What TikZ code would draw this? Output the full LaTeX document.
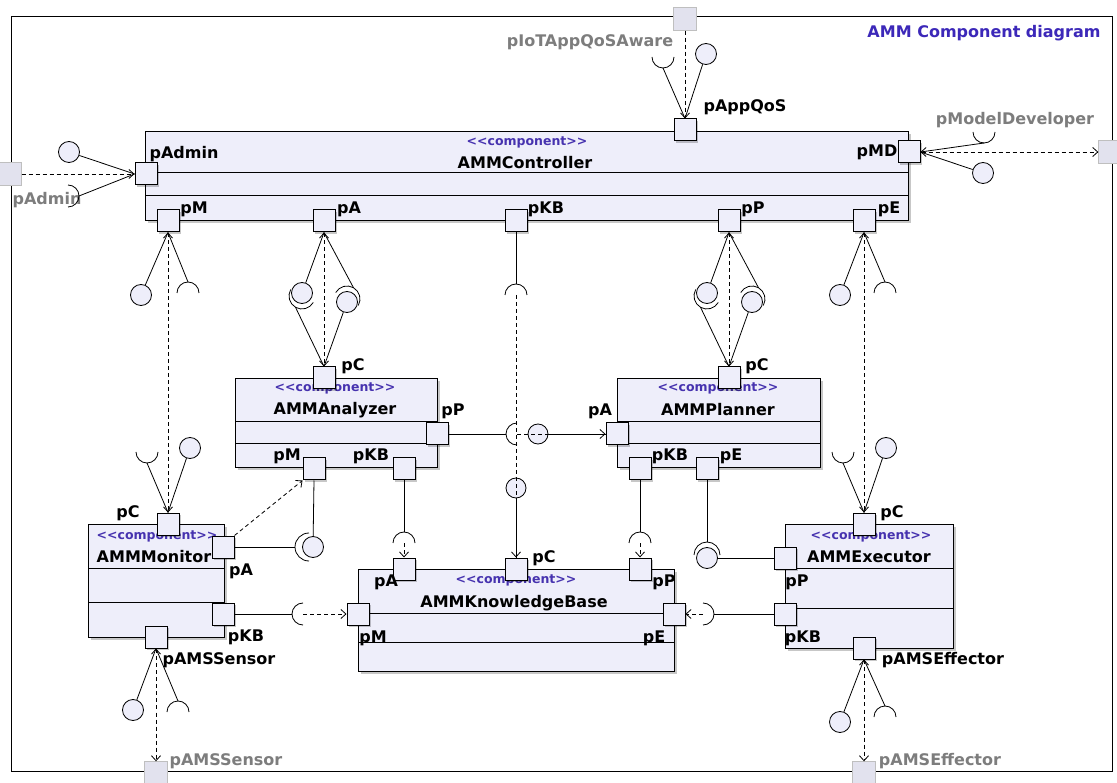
\documentclass[tikz,border=0pt]{standalone}
\usepackage{fontspec}
\setmainfont{DejaVu Sans}
\usetikzlibrary{arrows.meta, calc, shadows}
\definecolor{compfill}{RGB}{238,238,250}
\definecolor{extfill}{RGB}{226,226,238}
\definecolor{stcol}{RGB}{70,50,175}
\definecolor{ttlblue}{RGB}{60,40,185}
\definecolor{xgray}{RGB}{125,125,125}

% socket (required interface): radius, name, centre, opening angle
\newcommand{\sockat}[4][11pt]{%
  \coordinate (#2) at (#3);
  \coordinate (#2-b) at ($(#2)+(#4+180:#1)$);
  \draw[ifc] ($(#2)+(#4+90:#1)$) arc[start angle=#4+90, end angle=#4+270, radius=#1];}
% compartment line inside a component
\newcommand{\compart}[2]{\draw[line width=1pt] ($(#1.north west)+(0,#2)$) -- ($(#1.north east)+(0,#2)$);}
\newcommand{\stt}{<\kern0pt<component>\kern0pt>}

\begin{document}
\begin{tikzpicture}[x=1pt, y=-1pt,
  every node/.style={font=\fontsize{16}{18}\selectfont\bfseries},
  >={Straight Barb[length=5pt,width=9pt]},
  shade/.style={drop shadow={shadow xshift=2pt, shadow yshift=-2pt, fill=black, opacity=0.22}},
  comp/.style={draw, fill=compfill, line width=1.1pt, anchor=north west, inner sep=0pt, shade},
  port/.style={draw, fill=compfill, line width=1pt, minimum size=22pt, inner sep=0pt, shade},
  extport/.style={draw=black!25, fill=extfill, minimum size=23pt, inner sep=0pt},
  plab/.style={inner sep=0pt},
  xlab/.style={text=xgray, inner sep=0pt},
  stereo/.style={text=stcol, inner sep=0pt, font=\fontsize{12.5}{14}\selectfont\bfseries},
  lolli/.style={circle, draw, fill=compfill, minimum size=21pt, inner sep=0pt, line width=0.8pt},
  ifc/.style={line width=0.8pt},
  wire/.style={line width=0.8pt},
  deleg/.style={line width=0.8pt, dash pattern=on 4pt off 3pt}]

  \fill[white] (0,0) rectangle (1117,783);
  \useasboundingbox (0,0) rectangle (1117,783);
  \draw[line width=1pt] (11,17) rectangle (1112,771);
  \node[text=ttlblue] (ttl) at (984,33) {AMM Component diagram};

  % components
  \node[comp, minimum width=763pt, minimum height=89pt] (ctrl) at (145,131) {};
  \compart{ctrl}{42} \compart{ctrl}{65}
  \node[stereo] (ctrl-st) at (527,142) {\stt};
  \node (ctrl-nm) at (525,163) {AMMController};

  \node[comp, minimum width=202pt, minimum height=89pt] (ana) at (235,378) {};
  \compart{ana}{44} \compart{ana}{66}
  \node[stereo] (ana-st) at (335,388) {\stt};
  \node (ana-nm) at (335,410) {AMMAnalyzer};

  \node[comp, minimum width=203pt, minimum height=89pt] (pla) at (617,378) {};
  \compart{pla}{44} \compart{pla}{66}
  \node[stereo] (pla-st) at (718,388) {\stt};
  \node (pla-nm) at (718,410) {AMMPlanner};

  \node[comp, minimum width=136pt, minimum height=113pt] (mon) at (88,524) {};
  \compart{mon}{44} \compart{mon}{78}
  \node[stereo] (mon-st) at (157,536) {\stt};
  \node (mon-nm) at (154,557) {AMMMonitor};

  \node[comp, minimum width=168pt, minimum height=124pt] (exe) at (785,524) {};
  \compart{exe}{44} \compart{exe}{84}
  \node[stereo] (exe-st) at (871,536) {\stt};
  \node (exe-nm) at (869,557) {AMMExecutor};

  \node[comp, minimum width=316pt, minimum height=102pt] (kb) at (358,569) {};
  \compart{kb}{44} \compart{kb}{73}
  \node[stereo] (kb-st) at (516,580) {\stt};
  \node (kb-nm) at (514,603) {AMMKnowledgeBase};

  % ports
  \node[port] (cAdmin) at (146,174) {};
  \node[port] (cQoS) at (685,130) {};
  \node[port] (cMD) at (909,152) {};
  \node[port] (cM) at (168,221) {};
  \node[port] (cA) at (324,221) {};
  \node[port] (cKB) at (516,221) {};
  \node[port] (cP) at (729,221) {};
  \node[port] (cE) at (864,221) {};
  \node[port] (aC) at (324,378) {};
  \node[port] (aP) at (437,434) {};
  \node[port] (aM) at (314,469) {};
  \node[port] (aKB) at (404,469) {};
  \node[port] (lC) at (729,378) {};
  \node[port] (lA) at (617,434) {};
  \node[port] (lKB) at (640,469) {};
  \node[port] (lE) at (707,469) {};
  \node[port] (mC) at (168,524) {};
  \node[port] (mA) at (223,547) {};
  \node[port] (mKB) at (223,614) {};
  \node[port] (mS) at (156,637) {};
  \node[port] (eC) at (864,524) {};
  \node[port] (eP) at (785,558) {};
  \node[port] (eKB) at (785,614) {};
  \node[port] (eS) at (864,648) {};
  \node[port] (kA) at (404,569) {};
  \node[port] (kC) at (516,569) {};
  \node[port] (kP) at (640,569) {};
  \node[port] (kM) at (358,614) {};
  \node[port] (kE) at (674,614) {};

  % port labels
  \node[plab] (cAdmin-l) at (184,154) {pAdmin};
  \node[plab] (cQoS-l) at (745,107) {pAppQoS};
  \node[plab] (cMD-l) at (877,152) {pMD};
  \node[plab] (cM-l) at (194,209) {pM};
  \node[plab] (cA-l) at (349,209) {pA};
  \node[plab] (cKB-l) at (546,209) {pKB};
  \node[plab] (cP-l) at (753,209) {pP};
  \node[plab] (cE-l) at (889,209) {pE};
  \node[plab] (aC-l) at (353,366) {pC};
  \node[plab] (aP-l) at (453,411) {pP};
  \node[plab] (aM-l) at (287,456) {pM};
  \node[plab] (aKB-l) at (371,456) {pKB};
  \node[plab] (lC-l) at (757,366) {pC};
  \node[plab] (lA-l) at (600,411) {pA};
  \node[plab] (lKB-l) at (670,456) {pKB};
  \node[plab] (lE-l) at (731,456) {pE};
  \node[plab] (mC-l) at (128,513) {pC};
  \node[plab] (mA-l) at (241,571) {pA};
  \node[plab] (mKB-l) at (246,637) {pKB};
  \node[plab] (mS-l) at (219,660) {pAMSSensor};
  \node[plab] (eC-l) at (892,513) {pC};
  \node[plab] (eP-l) at (797,582) {pP};
  \node[plab] (eKB-l) at (803,638) {pKB};
  \node[plab] (eS-l) at (943,660) {pAMSEffector};
  \node[plab] (kA-l) at (386,582) {pA};
  \node[plab] (kC-l) at (544,558) {pC};
  \node[plab] (kP-l) at (664,582) {pP};
  \node[plab] (kM-l) at (373,638) {pM};
  \node[plab] (kE-l) at (654,638) {pE};

  % outer ports
  \node[extport] (xAdmin) at (10,174) {};
  \node[xlab] (xAdmin-l) at (47,200) {pAdmin};
  \node[extport] (xQoS) at (685,19) {};
  \node[xlab] (xQoS-l) at (590,42) {pIoTAppQoSAware};
  \node[extport] (xMD) at (1110,152) {};
  \node[xlab] (xMD-l) at (1015,120) {pModelDeveloper};
  \node[extport] (xSensor) at (156,773) {};
  \node[xlab] (xSensor-l) at (226,761) {pAMSSensor};
  \node[extport] (xEff) at (864,773) {};
  \node[xlab] (xEff-l) at (940,761) {pAMSEffector};

  % delegation: pAdmin
  \node[lolli] (iAdmin) at (69,152) {};
  \sockat{sAdmin}{68,196}{180}
  \draw[deleg,->] (xAdmin) -- (cAdmin);
  \draw[wire] (iAdmin) -- (cAdmin.west);
  \draw[wire] (sAdmin-b) -- (cAdmin.west);

  % delegation: pAppQoS
  \sockat{sQoS}{663,57}{90}
  \node[lolli] (iQoS) at (706,54) {};
  \draw[deleg,->] (xQoS) -- (cQoS);
  \draw[wire] (sQoS-b) -- (cQoS.north);
  \draw[wire] (iQoS) -- (cQoS.north);

  % delegation: pMD
  \sockat{sMD}{984,132}{90}
  \node[lolli] (iMD) at (983,173) {};
  \draw[deleg,<->] (cMD) -- (xMD);
  \draw[wire] (cMD.east) -- (sMD-b);
  \draw[wire] (cMD.east) -- (iMD);

  % controller pM - monitor pC
  \node[lolli] (iM1) at (141,295) {};
  \sockat{sM1}{188,293}{270}
  \sockat{sM2}{147,452}{90}
  \node[lolli] (iM2) at (190,448) {};
  \draw[deleg,<->] (cM) -- (mC);
  \draw[wire] (cM.south) -- (iM1);
  \draw[wire] (cM.south) -- (sM1-b);
  \draw[wire] (sM2-b) -- (mC.north);
  \draw[wire] (iM2) -- (mC.north);

  % controller pA - analyzer pC
  \node[lolli] (iA1) at (302,293) {};
  \sockat[13pt]{sA1}{302,296}{60}
  \node[lolli] (iA2) at (347,302) {};
  \sockat[13pt]{sA2}{347,299}{240}
  \draw[deleg,<->] (cA) -- (aC);
  \draw[wire] (cA.south) -- (iA1);
  \draw[wire] (cA.south) -- (sA2-b);
  \draw[wire] (sA1-b) -- (aC.north);
  \draw[wire] (iA2) -- (aC.north);

  % controller pP - planner pC
  \node[lolli] (iP1) at (707,293) {};
  \sockat[13pt]{sP1}{707,296}{60}
  \node[lolli] (iP2) at (752,302) {};
  \sockat[13pt]{sP2}{752,299}{240}
  \draw[deleg,<->] (cP) -- (lC);
  \draw[wire] (cP.south) -- (iP1);
  \draw[wire] (cP.south) -- (sP2-b);
  \draw[wire] (sP1-b) -- (lC.north);
  \draw[wire] (iP2) -- (lC.north);

  % controller pE - executor pC
  \node[lolli] (iE1) at (840,295) {};
  \sockat{sE1}{885,293}{270}
  \sockat{sE2}{843,452}{90}
  \node[lolli] (iE2) at (886,448) {};
  \draw[deleg,<->] (cE) -- (eC);
  \draw[wire] (cE.south) -- (iE1);
  \draw[wire] (cE.south) -- (sE1-b);
  \draw[wire] (sE2-b) -- (eC.north);
  \draw[wire] (iE2) -- (eC.north);

  % controller pKB - knowledge base pC
  \sockat{sKB}{516,295}{270}
  \node[lolli, minimum size=20pt] (iKB) at (516,488) {};
  \draw[wire] (cKB.south) -- (sKB-b);
  \draw[deleg,->] (sKB) -- (kC);
  \draw[wire] (iKB) -- (kC.north);

  % analyzer pP - planner pA
  \sockat{sAP}{517,434}{0}
  \node[lolli, minimum size=20pt] (iAP) at (538,434) {};
  \draw[wire] (aP.east) -- (sAP-b);
  \draw[deleg,->] (sAP) -- (lA);
  \draw[wire] (iAP) -- (lA.west);

  % monitor pA - analyzer pM
  \node[lolli] (iAM) at (313,547) {};
  \sockat[14pt]{sAM}{309,547}{0}
  \draw[deleg,->] (mA.north east) -- (aM.south west);
  \draw[wire] (aM.south) -- (iAM);
  \draw[wire] (mA.east) -- (sAM-b);

  % analyzer pKB, planner pKB - knowledge base
  \sockat{sAK}{404,543}{270}
  \draw[wire] (aKB.south) -- (sAK-b);
  \draw[deleg,->] (sAK) -- (kA);
  \sockat{sPK}{640,543}{270}
  \draw[wire] (lKB.south) -- (sPK-b);
  \draw[deleg,->] (sPK) -- (kP);

  % planner pE - executor pP
  \node[lolli] (iPE) at (707,558) {};
  \sockat[13pt]{sPE}{707,555}{270}
  \draw[wire] (lE.south) -- (sPE-b);
  \draw[wire] (iPE) -- (eP.west);

  % monitor pKB, executor pKB - knowledge base
  \sockat{sMK}{303,614}{0}
  \draw[wire] (mKB.east) -- (sMK-b);
  \draw[deleg,->] (sMK) -- (kM);
  \sockat{sEK}{703,614}{180}
  \draw[wire] (eKB.west) -- (sEK-b);
  \draw[deleg,->] (sEK) -- (kE);

  % delegation: pAMSSensor
  \node[lolli] (iSen) at (133,710) {};
  \sockat{sSen}{178,712}{270}
  \draw[deleg,<->] (mS) -- (xSensor);
  \draw[wire] (mS.south) -- (iSen);
  \draw[wire] (mS.south) -- (sSen-b);

  % delegation: pAMSEffector
  \node[lolli] (iEff) at (840,722) {};
  \sockat{sEff}{885,717}{270}
  \draw[deleg,<->] (eS) -- (xEff);
  \draw[wire] (eS.south) -- (iEff);
  \draw[wire] (eS.south) -- (sEff-b);
\end{tikzpicture}
\end{document}
